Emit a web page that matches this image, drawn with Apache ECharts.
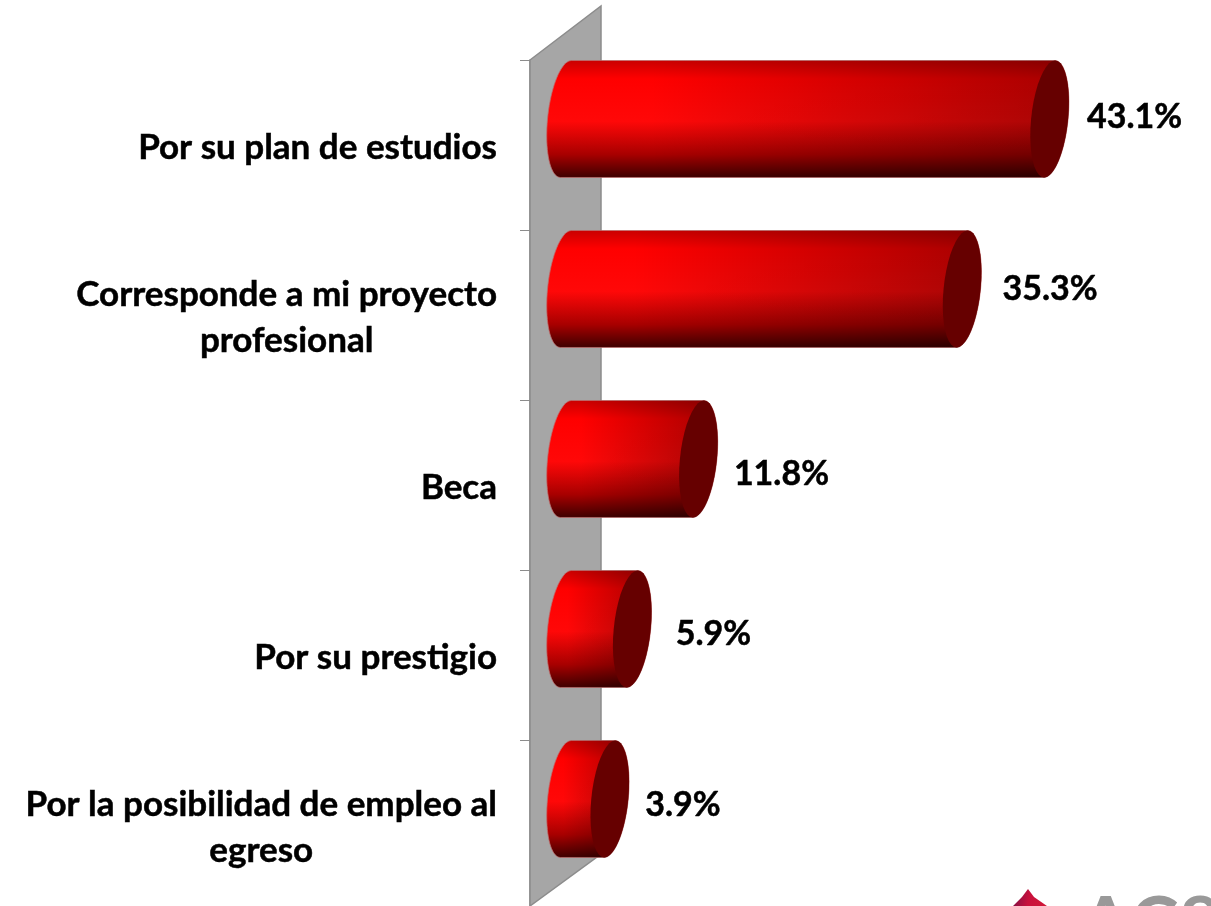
<!DOCTYPE html>
<html>
<head>
<meta charset="utf-8">
<style>html,body{margin:0;padding:0;background:#fff;overflow:hidden}#c{width:1211px;height:906px}</style>
<script src="https://cdn.jsdelivr.net/npm/echarts@6/dist/echarts.min.js"></script>
</head>
<body>
<div id="c"></div>
<script>
const categories = ['Por su plan de estudios', 'Corresponde a mi proyecto\nprofesional', 'Beca', 'Por su prestigio', 'Por la posibilidad de empleo al\negreso'];
const values = [43.1, 35.3, 11.8, 5.9, 3.9];
const valueLabels = ['43.1%', '35.3%', '11.8%', '5.9%', '3.9%'];
const labelNudgeX = [18, 21, 16, 24, 16];
const labelNudgeY = [-2, 0, 15, 5, 6];

const FONT = 'Lato, "Open Sans", sans-serif';
const chart = echarts.init(document.getElementById('c'), null, {renderer: 'canvas'});

function ellipsePts(cx, cy, a, k, b, from, to) {
  const pts = [], n = 40;
  for (let i = 0; i <= n; i++) {
    const t = (from + (to - from) * i / n) * Math.PI / 180;
    pts.push([cx + a * Math.cos(t) + k * Math.sin(t), cy - b * Math.sin(t)]);
  }
  return pts;
}
const bodyFill = {type: 'linear', x: 0, y: 0, x2: 0, y2: 1, colorStops: [
  {offset: 0, color: '#c80000'}, {offset: 0.16, color: '#ff0000'}, {offset: 0.52, color: '#ff0808'},
  {offset: 0.8, color: '#a80000'}, {offset: 1, color: '#3c0000'}]};
const shadeFill = {type: 'linear', x: 0, y: 0, x2: 1, y2: 0, colorStops: [
  {offset: 0, color: 'rgba(0,0,0,0)'}, {offset: 0.2, color: 'rgba(0,0,0,0)'}, {offset: 1, color: 'rgba(0,0,0,0.34)'}]};

function renderBar(params, api) {
  const idx = api.value(0), v = api.value(1);
  const start = api.coord([0, idx]), end = api.coord([v, idx]);
  const band = api.size([0, 1])[1];
  const h = band * 0.688, b = h / 2, cy = start[1] - band * 0.153;
  const a = 18.5, k = 5.5;
  const leftHalf = ellipsePts(start[0], cy, a, k, b, 90, 270);
  const rightHalf = ellipsePts(end[0], cy, a, k, b, -90, 90);
  const outline = leftHalf.concat(rightHalf);
  const cap = ellipsePts(end[0], cy, a, k, b, 0, 360);
  return {type: 'group', children: [
    {type: 'polygon', shape: {points: outline}, style: {fill: bodyFill, stroke: 'rgba(190,110,110,0.75)', lineWidth: 1}},
    {type: 'polygon', shape: {points: outline}, style: {fill: shadeFill}},
    {type: 'polygon', shape: {points: cap}, style: {fill: '#660000'}},
    {type: 'text', x: end[0] + a + 1 + labelNudgeX[idx], y: cy + labelNudgeY[idx],
      style: {text: valueLabels[idx], fill: '#000', font: 'bold 34px ' + FONT, textAlign: 'left', textVerticalAlign: 'middle', stroke: '#000', lineWidth: 0.5}}
  ]};
}
function renderWall(params) {
  const c = params.coordSys, depth = 71, rise = 54, left = c.x - 36, right = left + depth;
  const bottom = c.y + 846;
  return {type: 'polygon', shape: {points: [[left, c.y], [right, c.y - rise], [right, bottom - 52], [left, bottom]]},
    style: {fill: '#a6a6a6', stroke: '#8c8c8c', lineWidth: 1.5}};
}

chart.setOption({
  animation: false,
  backgroundColor: '#fff',
  grid: {left: 566, top: 60, width: 561, height: 850, containLabel: false, outerBoundsMode: 'none'},
  xAxis: {type: 'value', min: 0, max: 50, show: false, splitLine: {show: false}},
  yAxis: {
    type: 'category', inverse: true, data: categories, offset: 36,
    axisLine: {show: true, onZero: false, lineStyle: {color: '#8c8c8c', width: 1.5}},
    axisTick: {show: true, length: 10, alignWithLabel: false, lineStyle: {color: '#8c8c8c', width: 1}},
    axisLabel: {
      show: true, margin: 33, align: 'right', interval: 0, padding: [5, 0, 0, 0],
      formatter: s => s.split('\n').map(l => '{c|' + l + '}').join('\n'),
      rich: {c: {align: 'center', fontFamily: FONT, fontWeight: 'bold', fontSize: 35, lineHeight: 46, color: '#000', textBorderColor: '#000', textBorderWidth: 0.5}}
    }
  },
  series: [
    {type: 'custom', coordinateSystem: 'cartesian2d', clip: false, z: 1, silent: true, renderItem: renderWall, data: [[0, 0]], encode: {x: 0, y: 1}},
    {type: 'custom', coordinateSystem: 'cartesian2d', clip: false, z: 3, silent: true, renderItem: renderBar,
      data: values.map((v, i) => [i, v]), encode: {x: 1, y: 0}}
  ],
  graphic: [
    {type: 'polygon', z: 5, shape: {points: [[1028, 889], [1034, 897], [1047, 906], [1013, 906], [1022, 897]]},
      style: {fill: {type: 'linear', x: 0, y: 0, x2: 1, y2: 0.4, colorStops: [{offset: 0, color: '#7a1046'}, {offset: 0.5, color: '#c8103c'}, {offset: 1, color: '#d01838'}]}}},
    {type: 'text', z: 5, left: 1080, top: 889, style: {text: 'AC8', fill: '#999999', font: 'bold 74px ' + FONT}}
  ]
});
</script>
</body>
</html>
